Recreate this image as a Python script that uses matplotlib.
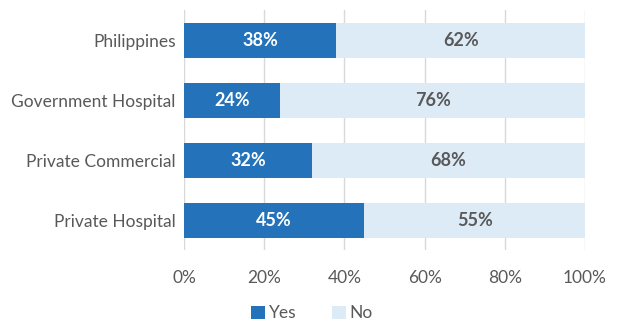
import matplotlib.pyplot as plt
import numpy as np

categories = ["Philippines", "Government Hospital", "Private Commercial", "Private Hospital"]
yes_pct = [38, 24, 32, 45]
no_pct = [62, 76, 68, 55]
xticks = [0, 20, 40, 60, 80, 100]

plt.rcParams['font.family'] = ['Lato', 'DejaVu Sans']

fig = plt.figure(figsize=(6.25, 3.23), dpi=100)
ax = fig.add_axes([0.2944, 0.2245, 0.6416, 0.743])

y = np.arange(len(categories))
yes = np.array(yes_pct)
no = np.array(no_pct)

ax.barh(y, yes, height=0.58, color='#2372BA', label='Yes', zorder=3)
ax.barh(y, no, left=yes, height=0.58, color='#DDEBF7', label='No', zorder=3)

for i in range(len(categories)):
    ax.text(yes[i] / 2, y[i], f"{yes[i]}%", ha='center', va='center',
            color='white', fontsize=13, fontweight='bold', zorder=4)
    ax.text(yes[i] + no[i] / 2, y[i], f"{no[i]}%", ha='center', va='center',
            color='#595959', fontsize=13, fontweight='bold', zorder=4)

ax.set_ylim(len(categories) - 0.5, -0.5)
ax.set_xlim(0, 100)
ax.set_yticks(y)
ax.set_yticklabels(categories)
ax.set_xticks(xticks)
ax.set_xticklabels([f"{t}%" for t in xticks])
ax.tick_params(axis='both', length=0, labelsize=12.5, labelcolor='#595959')
ax.tick_params(axis='x', pad=14)
ax.tick_params(axis='y', pad=6)
ax.grid(axis='x', color='#D9D9D9', linewidth=1, zorder=0)
for s in ax.spines.values():
    s.set_visible(False)

fig.legend(*ax.get_legend_handles_labels(), loc='center',
           bbox_to_anchor=(0.499, 0.03), ncol=2, frameon=False,
           fontsize=12.5, labelcolor='#595959', handlelength=0.8, handleheight=0.8,
           handletextpad=0.2, columnspacing=2.05, borderpad=0, borderaxespad=0)

fig.savefig('out.png', dpi=100)
